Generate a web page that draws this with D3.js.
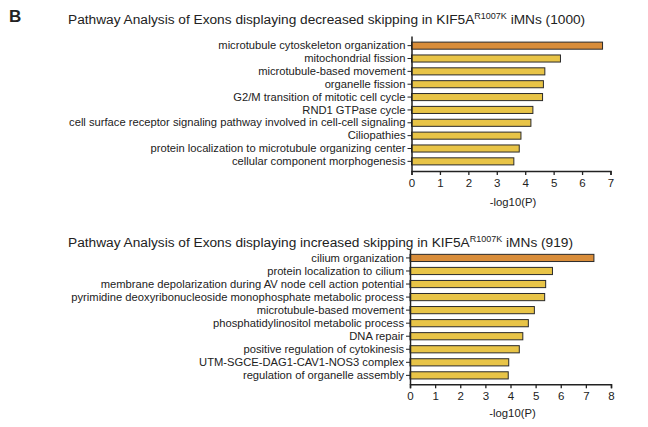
<!DOCTYPE html>
<html>
<head>
<meta charset="utf-8">
<script src="https://cdn.jsdelivr.net/npm/d3@7"></script>
<style>
  html, body { margin: 0; padding: 0; background: #fff; }
  svg { display: block; font-family: "Liberation Sans", Arial, sans-serif; }
</style>
</head>
<body>
<svg id="chart" width="648" height="427"></svg>
<script>
// Pathways enriched among exons with decreased skipping (1000 exons)
const decreasedTerms = [
  "microtubule cytoskeleton organization",
  "mitochondrial fission",
  "microtubule-based movement",
  "organelle fission",
  "G2/M transition of mitotic cell cycle",
  "RND1 GTPase cycle",
  "cell surface receptor signaling pathway involved in cell-cell signaling",
  "Ciliopathies",
  "protein localization to microtubule organizing center",
  "cellular component morphogenesis"
];
const decreasedValues = [6.72, 5.24, 4.69, 4.64, 4.61, 4.27, 4.20, 3.85, 3.79, 3.60];
const decreasedTicks = [0, 1, 2, 3, 4, 5, 6, 7];

// Pathways enriched among exons with increased skipping (919 exons)
const increasedTerms = [
  "cilium organization",
  "protein localization to cilium",
  "membrane depolarization during AV node cell action potential",
  "pyrimidine deoxyribonucleoside monophosphate metabolic process",
  "microtubule-based movement",
  "phosphatidylinositol metabolic process",
  "DNA repair",
  "positive regulation of cytokinesis",
  "UTM-SGCE-DAG1-CAV1-NOS3 complex",
  "regulation of organelle assembly"
];
const increasedValues = [7.32, 5.67, 5.40, 5.36, 4.95, 4.71, 4.49, 4.35, 3.93, 3.91];
const increasedTicks = [0, 1, 2, 3, 4, 5, 6, 7, 8];

const xLabel = "-log10(P)";
const topColor = "#d98d3a";
const barColor = "#e8c447";
const ink = "#222";

const svg = d3.select("#chart");

svg.append("text")
  .attr("x", 9).attr("y", 22)
  .attr("font-size", 17).attr("font-weight", "bold").attr("fill", ink)
  .text("B");

function panel(opts) {
  const g = svg.append("g");

  // Title with superscripted allele
  const t = g.append("text")
    .attr("x", opts.titleX).attr("y", opts.titleY)
    .attr("font-size", 13.7).attr("fill", ink);
  t.append("tspan").text(opts.titlePre);
  t.append("tspan").attr("font-size", 9).attr("dy", -5).text("R1007K");
  t.append("tspan").attr("dy", 5).text(opts.titlePost);

  const x = d3.scaleLinear()
    .domain([0, opts.ticks[opts.ticks.length - 1]])
    .range([opts.x0, opts.x1]);
  const y = d3.scaleBand()
    .domain(opts.terms)
    .range([opts.yTop, opts.yBottom])
    .paddingInner(0.45)
    .paddingOuter(opts.padOuter);

  g.selectAll("rect.bar")
    .data(opts.values)
    .join("rect")
    .attr("class", "bar")
    .attr("x", x(0))
    .attr("y", (d, i) => y(opts.terms[i]))
    .attr("width", d => x(d) - x(0))
    .attr("height", y.bandwidth())
    .attr("fill", (d, i) => i === 0 ? topColor : barColor)
    .attr("stroke", "#2a2a2a")
    .attr("stroke-width", 1);

  const xAxis = g.append("g")
    .attr("transform", `translate(0,${opts.yBottom})`)
    .call(d3.axisBottom(x).tickValues(opts.ticks).tickSize(4).tickPadding(4).tickFormat(d3.format("d")));
  xAxis.selectAll("text").attr("font-size", 11.5).attr("fill", ink).attr("font-family", "Liberation Sans, Arial, sans-serif");
  xAxis.selectAll("line").attr("stroke", ink).attr("stroke-width", 1.3);
  xAxis.select(".domain").attr("stroke", ink).attr("stroke-width", 1.5);

  const yAxis = g.append("g")
    .attr("transform", `translate(${opts.x0},0)`)
    .call(d3.axisLeft(y).tickSize(4).tickPadding(2).tickSizeOuter(0));
  yAxis.selectAll("text").attr("font-size", 11.2).attr("fill", ink).attr("font-family", "Liberation Sans, Arial, sans-serif");
  yAxis.selectAll("line").attr("stroke", ink).attr("stroke-width", 1);
  yAxis.select(".domain").attr("stroke", ink).attr("stroke-width", 1.5);

  g.append("text")
    .attr("x", (opts.x0 + opts.x1) / 2 + 2)
    .attr("y", opts.xTitleY)
    .attr("text-anchor", "middle")
    .attr("font-size", 11.3).attr("fill", ink)
    .text(xLabel);
}

panel({
  terms: decreasedTerms, values: decreasedValues, ticks: decreasedTicks,
  titlePre: "Pathway Analysis of Exons displaying decreased skipping in KIF5A",
  titlePost: " iMNs (1000)",
  titleX: 68, titleY: 24,
  x0: 411.5, x1: 610.5, yTop: 36, yBottom: 171, padOuter: 0.475,
  xTitleY: 205.5
});

panel({
  terms: increasedTerms, values: increasedValues, ticks: increasedTicks,
  titlePre: "Pathway Analysis of Exons displaying increased skipping in KIF5A",
  titlePost: " iMNs (919)",
  titleX: 68, titleY: 247,
  x0: 410, x1: 611, yTop: 249, yBottom: 384.3, padOuter: 0.41,
  xTitleY: 417
});
</script>
</body>
</html>
